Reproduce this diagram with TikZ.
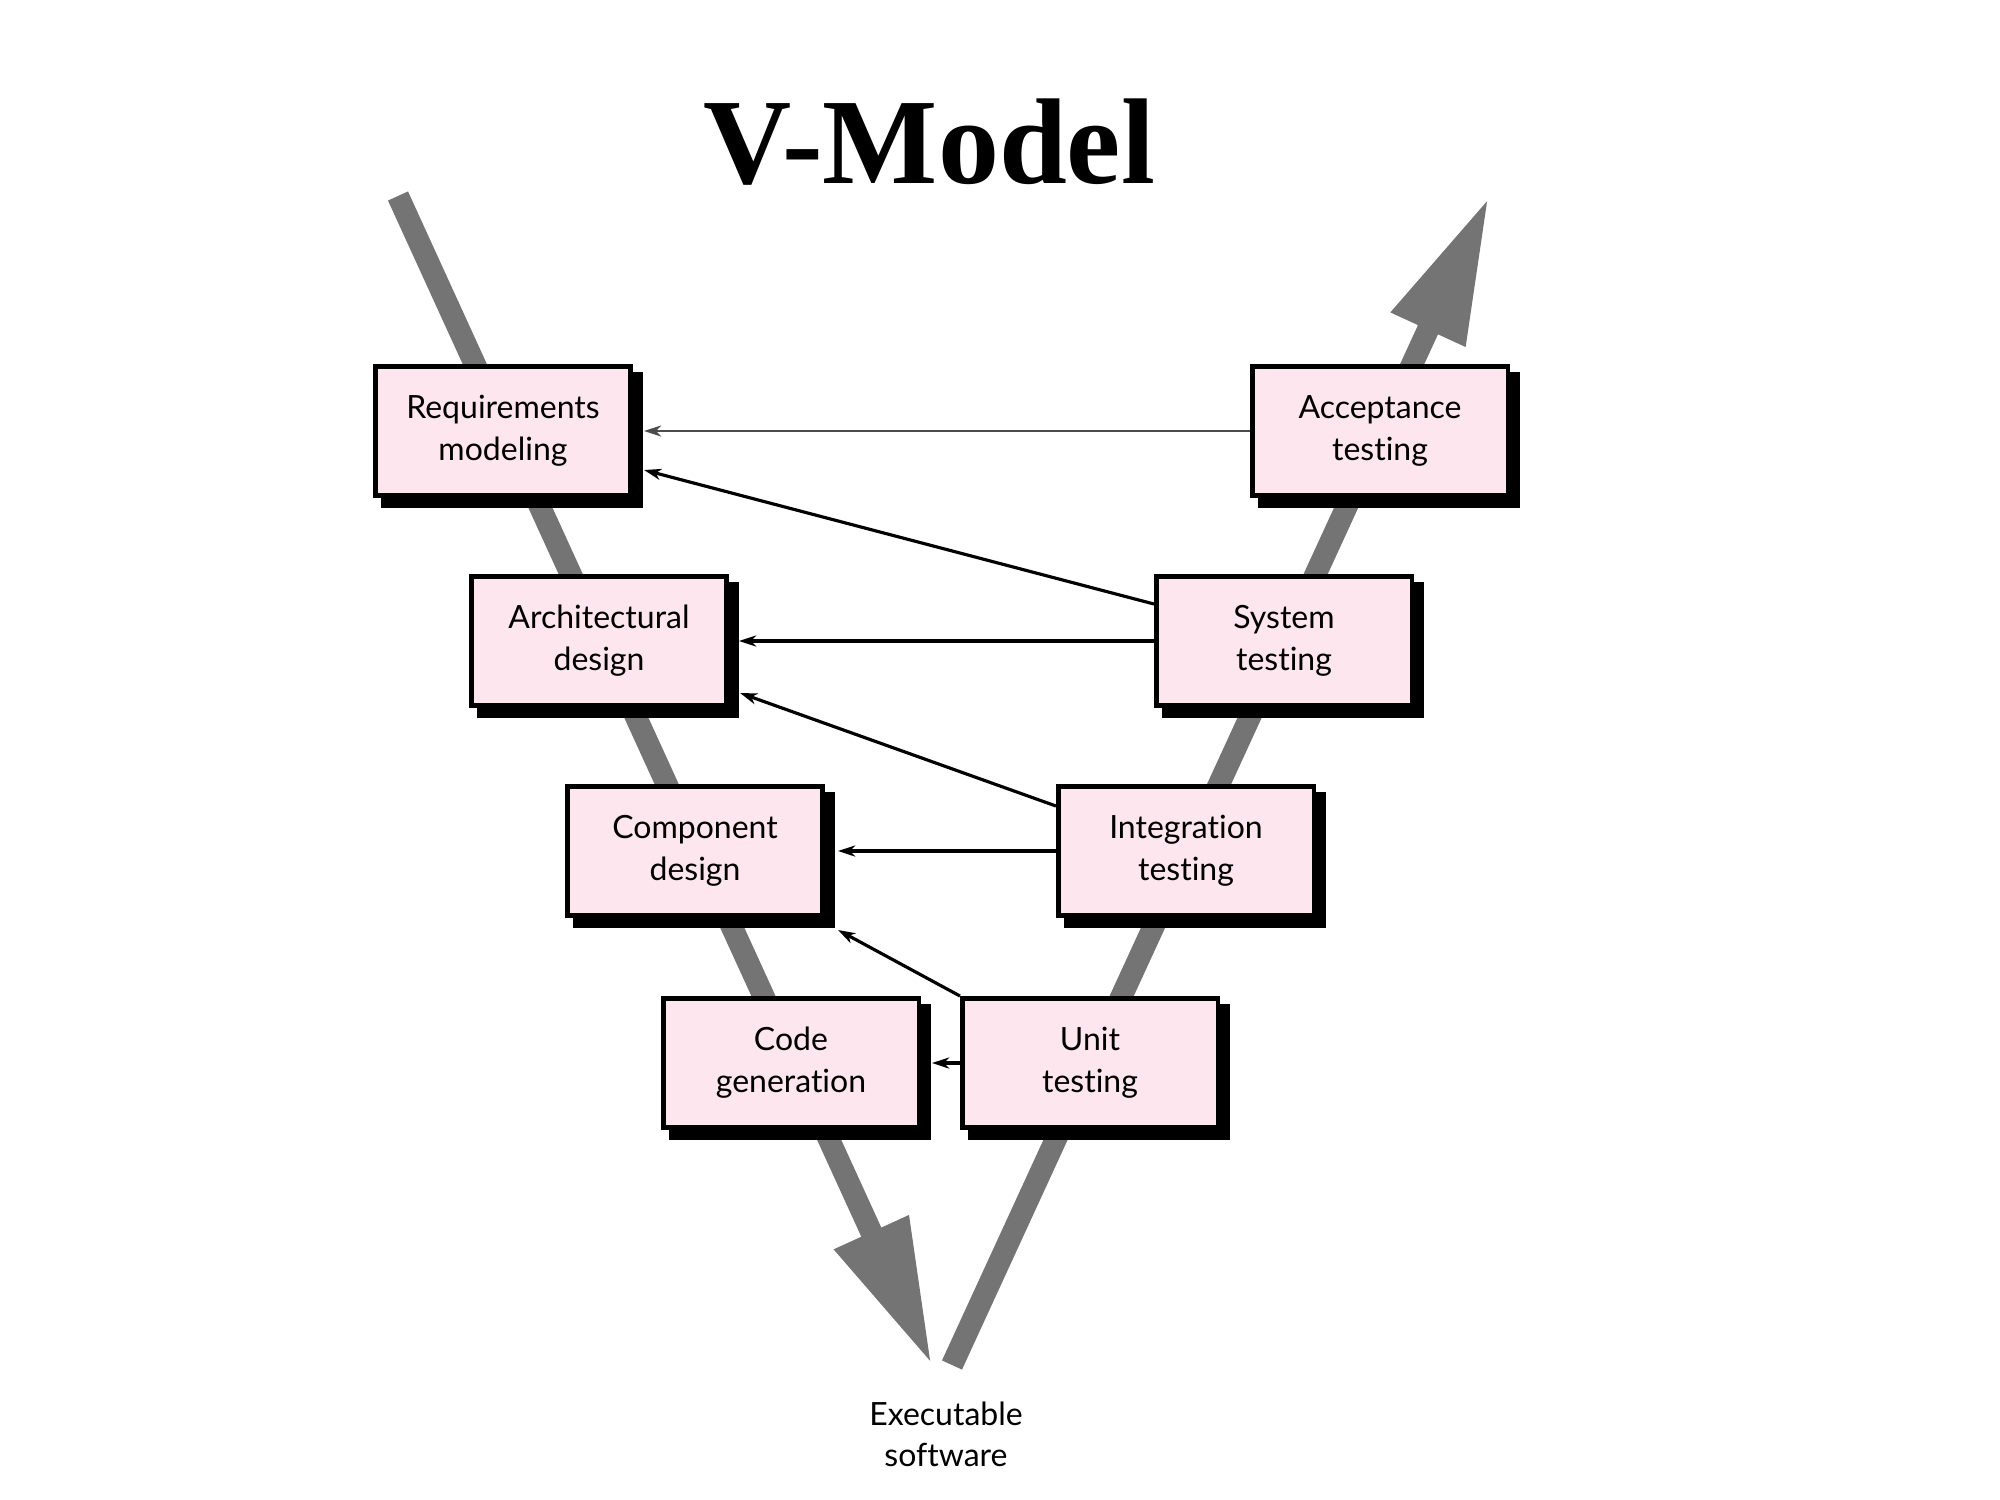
\documentclass[tikz,border=0pt]{standalone}
\usepackage{fontspec}
\setmainfont{Lato}[Ligatures={NoCommon}]
\newfontfamily\titlefont{Liberation Serif}
\usetikzlibrary{arrows.meta,calc,backgrounds}
\definecolor{boxpink}{RGB}{253,230,238}
\definecolor{vgray}{RGB}{116,116,116}
\begin{document}
\begin{tikzpicture}[x=0.01cm,y=-0.01cm,
  phase/.style={draw=black, line width=1.3pt, fill=boxpink, minimum width=2.554cm,
    minimum height=1.294cm, align=center, inner sep=0pt,
    font=\fontsize{9.1}{11.9}\selectfont},
  fb/.style={draw=black, line width=0.9pt, -{Stealth[length=0.17cm,width=0.11cm,inset=0.05cm]}},
  vline/.style={line width=0.22cm, vgray, -{Triangle[length=1.46cm,width=0.76cm]}},
  shadowbox/.style={fill=black}
]
\useasboundingbox (0,0) rectangle (2000,1500);

% title
\node[font=\titlefont\bfseries\fontsize{34.7}{40}\selectfont, anchor=base, inner sep=0pt] (title) at (929,183) {V-Model};

% phase boxes
\node[phase] (req)   at (503,431)  {Requirements\\modeling};
\node[phase] (arch)  at (599,641)  {Architectural\\design};
\node[phase] (comp)  at (695,851)  {Component\\design};
\node[phase] (code)  at (791,1063) {Code\\generation};
\node[phase] (unit)  at (1090,1063) {Unit\\testing};
\node[phase] (integ) at (1186,851) {Integration\\testing};
\node[phase] (sys)   at (1284,641) {System\\testing};
\node[phase] (acc)   at (1380,431) {Acceptance\\testing};

% executable software label
\node[align=center, inner sep=0pt, font=\fontsize{9.1}{11.7}\selectfont] (exe) at (946,1434) {Executable\\software};

% V arrows and shadows behind the boxes
\begin{scope}[on background layer]
  \coordinate (ltop) at (398,196);
  \coordinate (ltip) at (932,1365);
  \coordinate (rbot) at (952,1365);
  \coordinate (rtip) at (1489,197);
  \draw[vline] (ltop) -- (ltip);
  \draw[vline] (rbot) -- (rtip);
  \foreach \n in {req,arch,comp,code,unit,integ,sys,acc}
    \fill[shadowbox] ($(\n.north west)+(8,8)$) rectangle ($(\n.south east)+(10,10)$);
\end{scope}

% feedback connectors
\draw[fb, draw=black!70, line width=0.75pt] (acc.west) -- ($(req.east)+(11,0)$);
\draw[fb] ($(sys.west)+(0,-37)$) -- ($(req.east)+(11,39)$);
\draw[fb, line width=1.1pt] (sys.west) -- ($(arch.east)+(10,0)$);
\draw[fb] ($(integ.west)+(0,-45)$) -- ($(arch.east)+(11,52)$);
\draw[fb] (integ.west) -- ($(comp.east)+(13,0)$);
\draw[fb] (unit.north west) -- ($(comp.south east)+(13,12)$);
\draw[fb] (unit.west) -- ($(code.east)+(11,0)$);
\end{tikzpicture}
\end{document}
